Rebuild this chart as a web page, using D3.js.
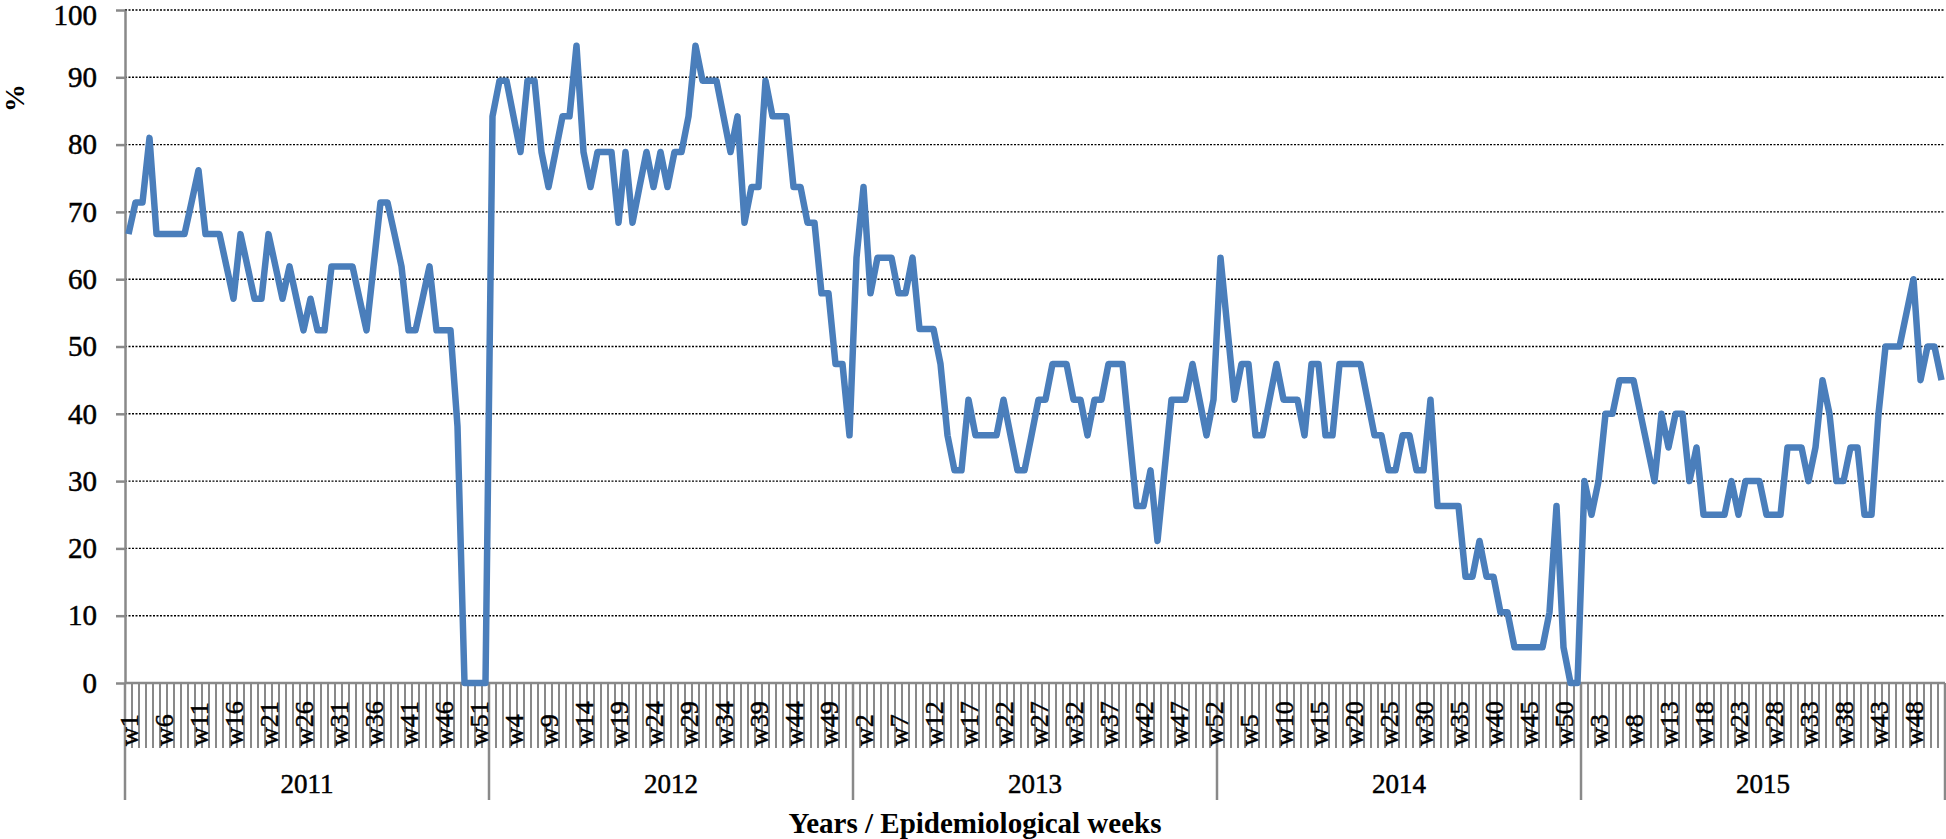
<!DOCTYPE html>
<html>
<head>
<meta charset="utf-8">
<script src="https://cdn.jsdelivr.net/npm/d3@7"></script>
<style>
  body { margin: 0; background: #fff; }
  svg { display: block; font-family: "Liberation Serif", "Times New Roman", serif; }
  .grid line { stroke: #000; stroke-width: 1.4; stroke-dasharray: 2,1.5; }
  .axis path, .axis line { stroke: #898989; }
  .lbl { stroke: #000; stroke-width: 0.5px; }
</style>
</head>
<body>
<svg width="1946" height="839"></svg>
<script>
// weekly values (%) per year
const years = ["2011", "2012", "2013", "2014", "2015"];
const v2011 = [66.7, 71.4, 71.4, 81.0, 66.7, 66.7, 66.7, 66.7, 66.7, 71.4,
  76.2, 66.7, 66.7, 66.7, 61.9, 57.1, 66.7, 61.9, 57.1, 57.1,
  66.7, 61.9, 57.1, 61.9, 57.1, 52.4, 57.1, 52.4, 52.4, 61.9,
  61.9, 61.9, 61.9, 57.1, 52.4, 61.9, 71.4, 71.4, 66.7, 61.9,
  52.4, 52.4, 57.1, 61.9, 52.4, 52.4, 52.4, 38.1, 0, 0,
  0, 0];
const v2012 = [84.2, 89.5, 89.5, 84.2, 78.9, 89.5, 89.5, 78.9, 73.7, 78.9,
  84.2, 84.2, 94.7, 78.9, 73.7, 78.9, 78.9, 78.9, 68.4, 78.9,
  68.4, 73.7, 78.9, 73.7, 78.9, 73.7, 78.9, 78.9, 84.2, 94.7,
  89.5, 89.5, 89.5, 84.2, 78.9, 84.2, 68.4, 73.7, 73.7, 89.5,
  84.2, 84.2, 84.2, 73.7, 73.7, 68.4, 68.4, 57.9, 57.9, 47.4,
  47.4, 36.8];
const v2013 = [63.2, 73.7, 57.9, 63.2, 63.2, 63.2, 57.9, 57.9, 63.2, 52.6,
  52.6, 52.6, 47.4, 36.8, 31.6, 31.6, 42.1, 36.8, 36.8, 36.8,
  36.8, 42.1, 36.8, 31.6, 31.6, 36.8, 42.1, 42.1, 47.4, 47.4,
  47.4, 42.1, 42.1, 36.8, 42.1, 42.1, 47.4, 47.4, 47.4, 36.8,
  26.3, 26.3, 31.6, 21.1, 31.6, 42.1, 42.1, 42.1, 47.4, 42.1,
  36.8, 42.1];
const v2014 = [63.2, 52.6, 42.1, 47.4, 47.4, 36.8, 36.8, 42.1, 47.4, 42.1,
  42.1, 42.1, 36.8, 47.4, 47.4, 36.8, 36.8, 47.4, 47.4, 47.4,
  47.4, 42.1, 36.8, 36.8, 31.6, 31.6, 36.8, 36.8, 31.6, 31.6,
  42.1, 26.3, 26.3, 26.3, 26.3, 15.8, 15.8, 21.1, 15.8, 15.8,
  10.5, 10.5, 5.3, 5.3, 5.3, 5.3, 5.3, 10.5, 26.3, 5.3,
  0, 0];
const v2015 = [30, 25, 30, 40, 40, 45, 45, 45, 40, 35,
  30, 40, 35, 40, 40, 30, 35, 25, 25, 25,
  25, 30, 25, 30, 30, 30, 25, 25, 25, 35,
  35, 35, 30, 35, 45, 40, 30, 30, 35, 35,
  25, 25, 40, 50, 50, 50, 55, 60, 45, 50,
  50, 45];
const yTicks = [0, 10, 20, 30, 40, 50, 60, 70, 80, 90, 100];

const series = [v2011, v2012, v2013, v2014, v2015];
const data = [];
series.forEach((arr, k) => {
  arr.forEach((v, w) => data.push({ key: years[k] + "-" + (w + 1), year: years[k], week: w + 1, value: v }));
});

const svg = d3.select("svg");
const margin = { top: 10, left: 125, right: 1, bottom: 156 };
const width = 1946 - margin.left - margin.right,
  height = 839 - margin.top - margin.bottom;
const g = svg.append("g").attr("transform", "translate(" + margin.left + "," + margin.top + ")");

const x = d3.scaleBand().domain(data.map(d => d.key)).range([0, width]).padding(0);
const y = d3.scaleLinear().domain([0, 100]).range([height, 0]);

// dotted gridlines
g.append("g")
  .attr("class", "grid")
  .selectAll("line")
  .data(yTicks.slice(1))
  .join("line")
  .attr("x1", 0).attr("x2", width)
  .attr("y1", d => y(d)).attr("y2", d => y(d));

// y axis
const yAxis = g.append("g")
  .attr("class", "axis")
  .call(d3.axisLeft(y).tickValues(yTicks).tickSize(9).tickPadding(19).tickSizeOuter(0));
yAxis.select(".domain").attr("stroke-width", 2.5);
yAxis.selectAll(".tick line").attr("stroke-width", 2.5);
yAxis.selectAll("text")
  .attr("class", "lbl")
  .attr("fill", "#000")
  .attr("dy", d => d === 100 ? "0.5em" : "0.32em")
  .style("font-size", "29px")
  .style("font-family", "Liberation Serif");

// x axis: a tick between every week
const xa = g.append("g").attr("class", "axis").attr("transform", "translate(0," + height + ")");
const bounds = data.map(d => x(d.key)).concat([width]);
xa.selectAll("line.wk")
  .data(bounds)
  .join("line")
  .attr("class", "wk")
  .attr("x1", d => d).attr("x2", d => d)
  .attr("y1", 0).attr("y2", 65)
  .attr("stroke-width", 2);

// year separators
const yearStarts = years.map(yr => x(yr + "-1")).concat([width]);
xa.selectAll("line.yr")
  .data(yearStarts)
  .join("line")
  .attr("class", "yr")
  .attr("x1", d => d).attr("x2", d => d)
  .attr("y1", 0).attr("y2", 117)
  .attr("stroke-width", 2.5);

xa.append("line")
  .attr("x1", 0).attr("x2", width)
  .attr("y1", 0).attr("y2", 0)
  .attr("stroke-width", 2.5);

// week labels, every fifth week
xa.selectAll("text.wk")
  .data(data.filter((d, i) => i % 5 === 0))
  .join("text")
  .attr("class", "wk lbl")
  .attr("transform", d => "translate(" + (x(d.key) + x.bandwidth() / 2) + ",63) rotate(-90)")
  .attr("dy", "0.35em")
  .attr("text-anchor", "start")
  .style("font-size", "26px")
  .text(d => "w" + d.week);

// year labels
xa.selectAll("text.yr")
  .data(years)
  .join("text")
  .attr("class", "yr lbl")
  .attr("x", (d, i) => (yearStarts[i] + yearStarts[i + 1]) / 2)
  .attr("y", 110)
  .attr("text-anchor", "middle")
  .style("font-size", "27px")
  .text(d => d);

// line
const line = d3.line()
  .x(d => x(d.key) + x.bandwidth() / 2)
  .y(d => y(d.value));

g.append("path")
  .datum(data)
  .attr("fill", "none")
  .attr("stroke", "#4a7ebb")
  .attr("stroke-width", 6.5)
  .attr("stroke-linejoin", "round")
  .attr("d", line);

// axis titles
svg.append("text")
  .attr("x", 975)
  .attr("y", 833)
  .attr("text-anchor", "middle")
  .style("font-size", "29px")
  .style("font-weight", "bold")
  .text("Years / Epidemiological weeks");

svg.append("text")
  .attr("transform", "translate(24,98) rotate(-90)")
  .attr("text-anchor", "middle")
  .style("font-size", "28px")
  .style("font-weight", "bold")
  .text("%");
</script>
</body>
</html>
